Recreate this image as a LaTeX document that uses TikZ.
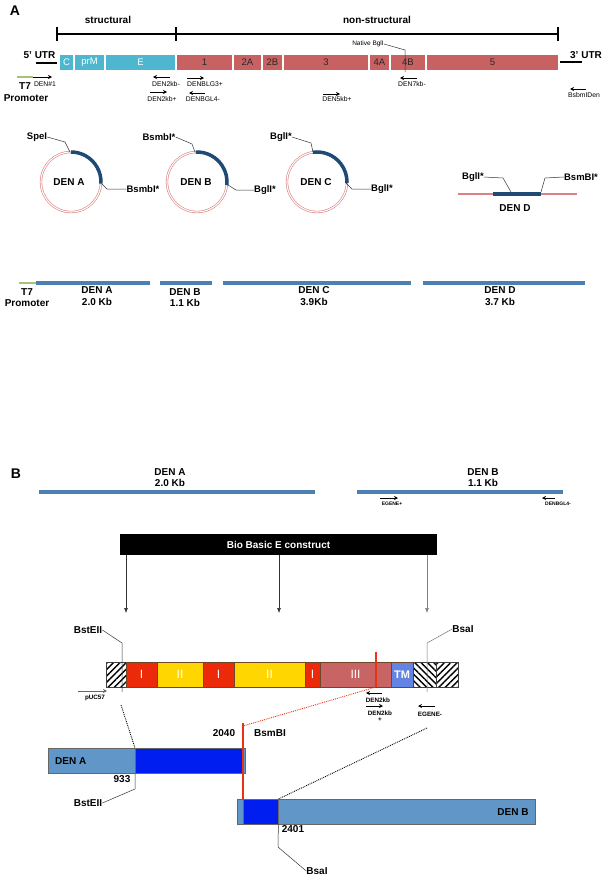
\documentclass[tikz,border=0pt]{standalone}
\usepackage{fontspec}
\setmainfont{Liberation Sans}
\usetikzlibrary{arrows.meta,patterns.meta}
\definecolor{cyanseg}{RGB}{78,182,206}
\definecolor{redseg}{RGB}{200,98,98}
\definecolor{darkarc}{RGB}{30,75,118}
\definecolor{pinkc}{RGB}{222,128,128}
\definecolor{steel}{RGB}{76,128,178}
\definecolor{tsgreen}{RGB}{165,195,120}
\definecolor{cRed}{RGB}{236,42,10}
\definecolor{cYel}{RGB}{255,214,0}
\definecolor{cIII}{RGB}{200,100,100}
\definecolor{cTM}{RGB}{100,132,228}
\definecolor{lblue}{RGB}{96,150,200}
\definecolor{bblue}{RGB}{0,30,240}
\definecolor{bsmred}{RGB}{232,52,20}
\definecolor{segborder}{RGB}{110,70,40}
\begin{document}
\begin{tikzpicture}[x=1pt,y=-1pt,
 every node/.style={inner sep=0pt,font=\bfseries\fontsize{10}{12}\selectfont},
 gseg/.style={minimum height=15pt,font=\fontsize{9.5}{10}\selectfont},
 cseg/.style={gseg,fill=cyanseg,text=white},
 rseg/.style={gseg,fill=redseg,text=black!85},
 prim/.style={line width=0.9pt,-{Stealth[length=4pt,width=4pt]}},
 plab/.style={font=\fontsize{6.8}{7}\selectfont},
 lead/.style={line width=0.5pt,black!80},
 pcirc/.style={draw=pinkc,double=white,double distance=1.1pt,line width=0.6pt},
 parc/.style={draw=darkarc,line width=3.5pt},
 kbar/.style={steel,line width=3.5pt},
 cons/.style={minimum height=25pt,draw=segborder,line width=0.4pt,text=white,font=\fontsize{12}{12}\selectfont},
 hatchbox/.style={minimum height=25pt,draw=black!75,line width=0.5pt},
 varrow/.style={line width=0.6pt,-{Latex[length=5pt,width=4pt]}},
 tinylab/.style={font=\bfseries\fontsize{6.3}{7}\selectfont},
 dotl/.style={densely dotted,line width=0.9pt},
 ]
\useasboundingbox (0,0) rectangle (605,878);
% ---------------- Panel A ----------------
\node[font=\bfseries\fontsize{14}{14}\selectfont] (labA) at (15,11) {A};
\node (struct) at (108,20) {structural};
\node (nonstruct) at (377,20) {non-structural};
\coordinate (t1) at (57,34); \coordinate (t2) at (176,34); \coordinate (t3) at (558,34);
\draw[line width=1.2pt] (t1) -- (t3);
\foreach \p in {t1,t2,t3} \draw[line width=1.2pt] ([yshift=7pt]\p) -- ([yshift=-7pt]\p);
\node (utr5) at (39.5,55) {5' UTR};
\draw[line width=1.2pt] (36,63) -- (57,63);
\node (utr3) at (586,55) {3' UTR};
\draw[line width=1.2pt] (560,62) -- (582,62);
% genome segments
\node[cseg,minimum width=13pt] (sC) at (66.5,62.5) {C};
\node[cseg,minimum width=29pt] (sprM) at (89.5,62.5) {prM};
\node[cseg,minimum width=69pt] (sE) at (140.5,62.5) {E};
\node[rseg,minimum width=55pt] (s1) at (204.5,62.5) {1};
\node[rseg,minimum width=27pt] (s2A) at (247.5,62.5) {2A};
\node[rseg,minimum width=19pt] (s2B) at (272.5,62.5) {2B};
\node[rseg,minimum width=84pt] (s3) at (326,62.5) {3};
\node[rseg,minimum width=19pt] (s4A) at (379.5,62.5) {4A};
\node[rseg,minimum width=34pt] (s4B) at (408,62.5) {4B};
\node[rseg,minimum width=131pt] (s5) at (492.5,62.5) {5};
\node[font=\fontsize{6.5}{7}\selectfont] (nbgl) at (368,44) {Native BglI};
\draw[lead] (nbgl.east) -- (405,50) -- (405,72);
% primers
\draw[tsgreen,line width=2pt] (17,77) -- (33,77);
\draw[prim] (33,77) -- (52,77);
\node[plab] (p1) at (45,84) {DEN\#1};
\node (t7) at (25,86) {T7};
\node (prom) at (26,98) {Promoter};
\draw[prim] (170,77) -- (153,77); \node[plab] (p2) at (166,84) {DEN2kb-};
\draw[prim] (150,92) -- (167,92); \node[plab] (p3) at (162,99) {DEN2kb+};
\draw[prim] (187,78) -- (204,78); \node[plab] (p4) at (205,84) {DENBLG3+};
\draw[prim] (205,93) -- (189,93); \node[plab] (p5) at (203,99) {DENBGL4-};
\draw[prim] (417,78) -- (400,78); \node[plab] (p6) at (412,84) {DEN7kb-};
\draw[prim] (323,94) -- (340,94); \node[plab] (p7) at (337,99) {DEN5kb+};
\draw[prim] (586,89) -- (570,89); \node[plab] (p8) at (584,95) {BsbmIDen};
% plasmids
\coordinate (cA) at (71,182); \coordinate (cB) at (197,182); \coordinate (cC) at (317,182);
\draw[pcirc] (cA) circle[radius=30pt];
\draw[pcirc] (cB) circle[radius=30pt];
\draw[pcirc] (cC) circle[radius=30pt];
\draw[parc] ([shift={(90:30pt)}]cA) arc[start angle=90,end angle=-3,radius=30pt];
\draw[parc] ([shift={(92:30pt)}]cB) arc[start angle=92,end angle=-6,radius=30pt];
\draw[parc] ([shift={(98:30pt)}]cC) arc[start angle=98,end angle=-2,radius=30pt];
\node (dA) at (69,182) {DEN A};
\node (dB) at (196,182) {DEN B};
\node (dC) at (316,182) {DEN C};
\node[font=\bfseries\fontsize{9.5}{10}\selectfont] (speI) at (37,137) {SpeI};
\draw[lead] (speI.east) -- (65,142) -- (70,152);
\node[font=\bfseries\fontsize{9.5}{10}\selectfont] (bsmA) at (143,189) {BsmbI*};
\draw[lead] (102,184) -- (107,189) -- (bsmA.west);
\node[font=\bfseries\fontsize{9.5}{10}\selectfont] (bsmB) at (159,137) {BsmbI*};
\draw[lead] (bsmB.east) -- (192,144) -- (195,152);
\node[font=\bfseries\fontsize{9.5}{10}\selectfont] (bglB) at (265,190) {BglI*};
\draw[lead] (228,185) -- (236,190) -- (bglB.west);
\node[font=\bfseries\fontsize{9.5}{10}\selectfont] (bglC1) at (281,137) {BglI*};
\draw[lead] (bglC1.east) -- (311,143) -- (313,152);
\node[font=\bfseries\fontsize{9.5}{10}\selectfont] (bglC2) at (382,189) {BglI*};
\draw[lead] (345,182) -- (352,189) -- (bglC2.west);
% DEN D linear
\draw[pinkc,line width=1.2pt] (458,194) -- (577,194);
\draw[parc] (493,194) -- (541,194);
\node (dD) at (515,208) {DEN D};
\node[font=\bfseries\fontsize{9.5}{10}\selectfont] (bglD) at (473,177) {BglI*};
\draw[lead] (bglD.east) -- (503,178) -- (511,192);
\node[font=\bfseries\fontsize{9.5}{10}\selectfont] (bsmD) at (581,177) {BsmBI*};
\draw[lead] (bsmD.west) -- (545,178) -- (541,192);
% fragment bars
\draw[tsgreen,line width=2.5pt] (19,283) -- (36,283);
\draw[kbar] (36,283) -- (150,283);
\draw[kbar] (160,283) -- (212,283);
\draw[kbar] (223,283) -- (411,283);
\draw[kbar] (423,283) -- (585,283);
\node (ft7) at (27,292) {T7};
\node (fprom) at (27,303) {Promoter};
\node (fa1) at (97,290) {DEN A}; \node (fa2) at (97,302) {2.0 Kb};
\node (fb1) at (185,292) {DEN B}; \node (fb2) at (185,303) {1.1 Kb};
\node (fc1) at (314,290) {DEN C}; \node (fc2) at (314,302) {3.9Kb};
\node (fd1) at (500,290) {DEN D}; \node (fd2) at (500,302) {3.7 Kb};
% ---------------- Panel B ----------------
\node[font=\bfseries\fontsize{14}{14}\selectfont] (labB) at (16,474) {B};
\draw[kbar] (39,492) -- (315,492);
\draw[kbar] (357,492) -- (563,492);
\node (ba1) at (170,472) {DEN A}; \node (ba2) at (170,483) {2.0 Kb};
\node (bb1) at (483,472) {DEN B}; \node (bb2) at (483,483) {1.1 Kb};
\draw[prim,line width=0.8pt] (380,498) -- (398,498);
\node[font=\bfseries\fontsize{5}{6}\selectfont] (eg1) at (392,504) {EGENE+};
\draw[prim,line width=0.8pt] (555,498) -- (542,498);
\node[font=\bfseries\fontsize{5}{6}\selectfont] (dbg) at (558,504) {DENBGL4-};
\node[fill=black,text=white,minimum width=317pt,minimum height=21pt] (box) at (278.5,544.5) {Bio Basic E construct};
\coordinate (ar1) at (126,613); \coordinate (ar2) at (279,613); \coordinate (ar3) at (427,613);
\draw[varrow,black!80] (box.south -| ar1) -- (ar1);
\draw[varrow,black!80] (box.south -| ar2) -- (ar2);
\draw[varrow,black!50] (box.south -| ar3) -- (ar3);
% construct
\node[hatchbox,minimum width=20pt,pattern={Lines[angle=45,distance=4.5pt,line width=1.4pt]}] (h1) at (116,674.5) {};
\node[cons,fill=cRed,minimum width=31pt] (k1) at (141.5,674.5) {I};
\node[cons,fill=cYel,minimum width=46pt] (k2) at (180,674.5) {II};
\node[cons,fill=cRed,minimum width=31pt] (k3) at (218.5,674.5) {I};
\node[cons,fill=cYel,minimum width=71pt] (k4) at (269.5,674.5) {II};
\node[cons,fill=cRed,minimum width=15pt] (k5) at (312.5,674.5) {I};
\node[cons,fill=cIII,minimum width=71pt] (k6) at (355.5,674.5) {III};
\node[cons,fill=cTM,minimum width=22pt,font=\bfseries\fontsize{11}{12}\selectfont] (k7) at (402,674.5) {TM};
\node[hatchbox,minimum width=23pt,pattern={Lines[angle=-45,distance=4.5pt,line width=1.4pt]}] (h2) at (424.5,674.5) {};
\node[hatchbox,minimum width=22pt,pattern={Lines[angle=45,distance=4.5pt,line width=1.4pt]}] (h3) at (447,674.5) {};
\draw[bsmred,line width=1.3pt] (376,652) -- (376,687);
\node (bst1) at (88,630) {BstEII};
\draw[lead] (bst1.east) -- (122,643) -- (122,692);
\node (bsa1) at (463,629) {BsaI};
\draw[lead,black!55] (bsa1.west) -- (427,643) -- (427,692);
\draw[prim,black!60,line width=0.9pt] (78,691) -- (107,691);
\node[tinylab] (puc) at (95,698) {pUC57};
\draw[prim] (382,693) -- (366,693); \node[tinylab] (d2a) at (378,700) {DEN2kb};
\draw[prim] (366,706) -- (383,706); \node[tinylab] (d2b) at (380,713) {DEN2kb};
\node[tinylab] (d2c) at (380,720) {+};
\draw[prim] (435,706) -- (418,706); \node[tinylab] (egm) at (430,714) {EGENE-};
% DEN A / DEN B bars
\node[draw=black!60,fill=lblue,minimum width=197pt,minimum height=25pt,anchor=north west] (barA) at (48,748) {};
\node[draw=black!60,fill=bblue,minimum width=108pt,minimum height=25pt,anchor=north west] (blA) at (135,748) {};
\node[anchor=west] (tA) at (55,761) {DEN A};
\node[draw=black!60,fill=lblue,minimum width=298pt,minimum height=25pt,anchor=north west] (barB) at (237,799) {};
\node[draw=black!60,fill=bblue,minimum width=35pt,minimum height=25pt,anchor=north west] (blB) at (243,799) {};
\node (tB) at (513,812) {DEN B};
\draw[bsmred,line width=1.3pt] (243,723) -- (243,799);
\draw[dotl,bsmred] (376,687) -- (243,726);
\draw[dotl] (121,705) -- (blA.north west);
\draw[dotl] (427,728) -- (blB.north east);
\node (n933) at (122,779) {933};
\node (n2040) at (224,733) {2040};
\node (nbsm) at (270,733) {BsmBI};
\node (n2401) at (293,829) {2401};
\node (bst2) at (88,803) {BstEII};
\draw[lead] (blA.south west) -- (135,789) -- (bst2.east);
\node (bsa2) at (317,871) {BsaI};
\draw[lead] (blB.south east) -- (278,847) -- (bsa2.west);
\end{tikzpicture}
\end{document}
